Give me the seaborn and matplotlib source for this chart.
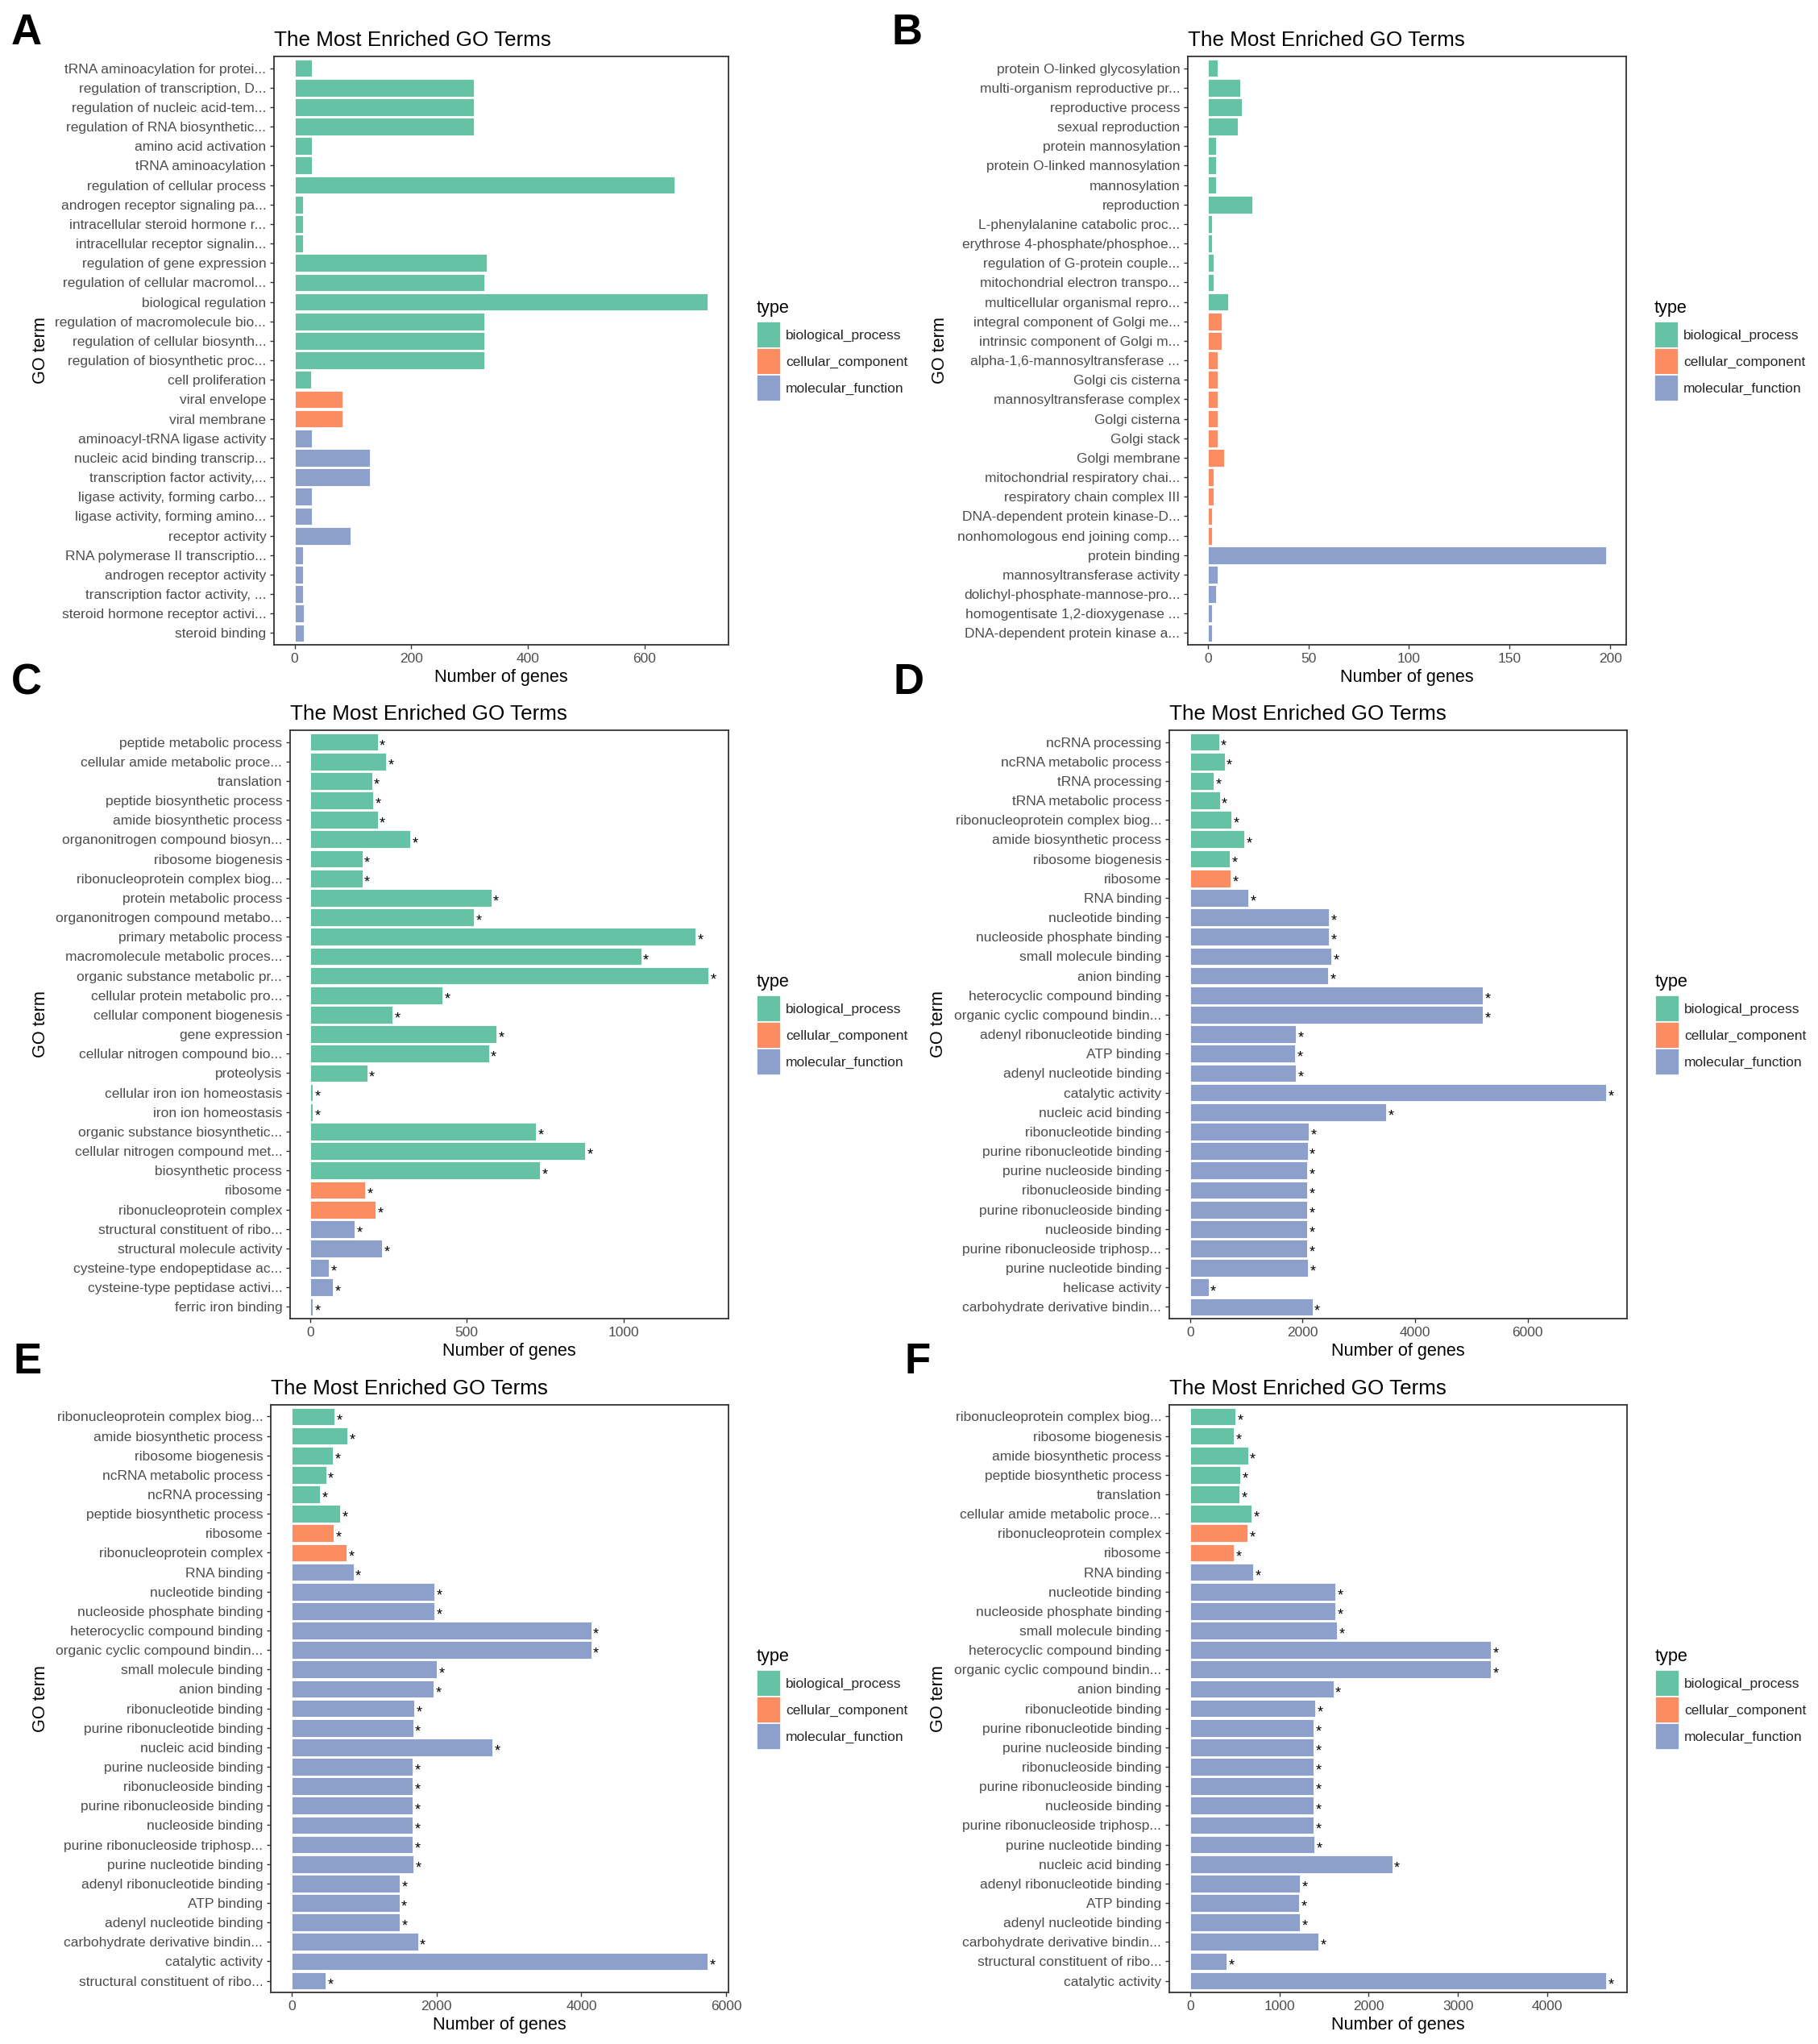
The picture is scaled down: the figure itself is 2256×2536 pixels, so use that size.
import matplotlib
matplotlib.use('Agg')
import matplotlib.pyplot as plt
import seaborn as sns
import pandas as pd
from matplotlib.patches import Patch

sns.set_style('white')
plt.rcParams['font.family'] = ['Liberation Sans', 'DejaVu Sans']

BP, CC, MF = 'biological_process', 'cellular_component', 'molecular_function'
type_names = [BP, CC, MF]
type_colors = ['#66C2A5', '#FC8D62', '#8DA0CB']

# ---------------- Panel A ----------------
a_terms = ["tRNA aminoacylation for protei...", "regulation of transcription, D...",
           "regulation of nucleic acid-tem...", "regulation of RNA biosynthetic...",
           "amino acid activation", "tRNA aminoacylation", "regulation of cellular process",
           "androgen receptor signaling pa...", "intracellular steroid hormone r...",
           "intracellular receptor signalin...", "regulation of gene expression",
           "regulation of cellular macromol...", "biological regulation",
           "regulation of macromolecule bio...", "regulation of cellular biosynth...",
           "regulation of biosynthetic proc...", "cell proliferation",
           "viral envelope", "viral membrane",
           "aminoacyl-tRNA ligase activity", "nucleic acid binding transcrip...",
           "transcription factor activity,...", "ligase activity, forming carbo...",
           "ligase activity, forming amino...", "receptor activity",
           "RNA polymerase II transcriptio...", "androgen receptor activity",
           "transcription factor activity, ...", "steroid hormone receptor activi...",
           "steroid binding"]
a_counts = [30, 308, 308, 308, 30, 30, 652, 15, 15, 15, 330, 325, 709, 325, 325, 325, 28,
            82, 82,
            30, 129, 129, 30, 30, 96, 15, 15, 15, 16, 16]
a_types = [BP] * 17 + [CC] * 2 + [MF] * 11
a_ticks = [0, 200, 400, 600]

# ---------------- Panel B ----------------
b_terms = ["protein O-linked glycosylation", "multi-organism reproductive pr...",
           "reproductive process", "sexual reproduction", "protein mannosylation",
           "protein O-linked mannosylation", "mannosylation", "reproduction",
           "L-phenylalanine catabolic proc...", "erythrose 4-phosphate/phosphoe...",
           "regulation of G-protein couple...", "mitochondrial electron transpo...",
           "multicellular organismal repro...",
           "integral component of Golgi me...", "intrinsic component of Golgi m...",
           "alpha-1,6-mannosyltransferase ...", "Golgi cis cisterna",
           "mannosyltransferase complex", "Golgi cisterna", "Golgi stack", "Golgi membrane",
           "mitochondrial respiratory chai...", "respiratory chain complex III",
           "DNA-dependent protein kinase-D...", "nonhomologous end joining comp...",
           "protein binding", "mannosyltransferase activity",
           "dolichyl-phosphate-mannose-pro...", "homogentisate 1,2-dioxygenase ...",
           "DNA-dependent protein kinase a..."]
b_counts = [5, 16, 17, 15, 4, 4, 4, 22, 2, 2, 3, 3, 10,
            7, 7, 5, 5, 5, 5, 5, 8, 3, 3, 2, 2,
            198, 5, 4, 2, 2]
b_types = [BP] * 13 + [CC] * 12 + [MF] * 5
b_ticks = [0, 50, 100, 150, 200]

# ---------------- Panel C ----------------
c_terms = ["peptide metabolic process", "cellular amide metabolic proce...", "translation",
           "peptide biosynthetic process", "amide biosynthetic process",
           "organonitrogen compound biosyn...", "ribosome biogenesis",
           "ribonucleoprotein complex biog...", "protein metabolic process",
           "organonitrogen compound metabo...", "primary metabolic process",
           "macromolecule metabolic proces...", "organic substance metabolic pr...",
           "cellular protein metabolic pro...", "cellular component biogenesis",
           "gene expression", "cellular nitrogen compound bio...", "proteolysis",
           "cellular iron ion homeostasis", "iron ion homeostasis",
           "organic substance biosynthetic...", "cellular nitrogen compound met...",
           "biosynthetic process",
           "ribosome", "ribonucleoprotein complex",
           "structural constituent of ribo...", "structural molecule activity",
           "cysteine-type endopeptidase ac...", "cysteine-type peptidase activi...",
           "ferric iron binding"]
c_counts = [216, 243, 198, 201, 216, 319, 167, 167, 578, 523, 1229, 1056, 1271, 422, 263,
            595, 570, 182, 9, 9, 721, 877, 734,
            176, 209,
            143, 230, 61, 73, 9]
c_types = [BP] * 23 + [CC] * 2 + [MF] * 5
c_ticks = [0, 500, 1000]

# ---------------- Panel D ----------------
d_terms = ["ncRNA processing", "ncRNA metabolic process", "tRNA processing",
           "tRNA metabolic process", "ribonucleoprotein complex biog...",
           "amide biosynthetic process", "ribosome biogenesis",
           "ribosome",
           "RNA binding", "nucleotide binding", "nucleoside phosphate binding",
           "small molecule binding", "anion binding", "heterocyclic compound binding",
           "organic cyclic compound bindin...", "adenyl ribonucleotide binding",
           "ATP binding", "adenyl nucleotide binding", "catalytic activity",
           "nucleic acid binding", "ribonucleotide binding", "purine ribonucleotide binding",
           "purine nucleoside binding", "ribonucleoside binding",
           "purine ribonucleoside binding", "nucleoside binding",
           "purine ribonucleoside triphosp...", "purine nucleotide binding",
           "helicase activity", "carbohydrate derivative bindin..."]
d_counts = [511, 615, 424, 528, 736, 961, 710,
            719,
            1039, 2468, 2468, 2511, 2450, 5203, 5203, 1879, 1870, 1879, 7394, 3489,
            2113, 2087, 2078, 2078, 2078, 2078, 2078, 2095, 329, 2173]
d_types = [BP] * 7 + [CC] * 1 + [MF] * 22
d_ticks = [0, 2000, 4000, 6000]

# ---------------- Panel E ----------------
e_terms = ["ribonucleoprotein complex biog...", "amide biosynthetic process",
           "ribosome biogenesis", "ncRNA metabolic process", "ncRNA processing",
           "peptide biosynthetic process",
           "ribosome", "ribonucleoprotein complex",
           "RNA binding", "nucleotide binding", "nucleoside phosphate binding",
           "heterocyclic compound binding", "organic cyclic compound bindin...",
           "small molecule binding", "anion binding", "ribonucleotide binding",
           "purine ribonucleotide binding", "nucleic acid binding",
           "purine nucleoside binding", "ribonucleoside binding",
           "purine ribonucleoside binding", "nucleoside binding",
           "purine ribonucleoside triphosp...", "purine nucleotide binding",
           "adenyl ribonucleotide binding", "ATP binding", "adenyl nucleotide binding",
           "carbohydrate derivative bindin...", "catalytic activity",
           "structural constituent of ribo..."]
e_counts = [593, 768, 572, 478, 391, 673,
            579, 761,
            855, 1973, 1973, 4135, 4135, 2007, 1960, 1697, 1677, 2774, 1670, 1670,
            1670, 1670, 1670, 1684, 1495, 1488, 1495, 1744, 5744, 471]
e_types = [BP] * 6 + [CC] * 2 + [MF] * 22
e_ticks = [0, 2000, 4000, 6000]

# ---------------- Panel F ----------------
f_terms = ["ribonucleoprotein complex biog...", "ribosome biogenesis",
           "amide biosynthetic process", "peptide biosynthetic process", "translation",
           "cellular amide metabolic proce...",
           "ribonucleoprotein complex", "ribosome",
           "RNA binding", "nucleotide binding", "nucleoside phosphate binding",
           "small molecule binding", "heterocyclic compound binding",
           "organic cyclic compound bindin...", "anion binding", "ribonucleotide binding",
           "purine ribonucleotide binding", "purine nucleoside binding",
           "ribonucleoside binding", "purine ribonucleoside binding", "nucleoside binding",
           "purine ribonucleoside triphosp...", "purine nucleotide binding",
           "nucleic acid binding", "adenyl ribonucleotide binding", "ATP binding",
           "adenyl nucleotide binding", "carbohydrate derivative bindin...",
           "structural constituent of ribo...", "catalytic activity"]
f_counts = [508, 491, 649, 562, 551, 688,
            644, 491,
            704, 1626, 1626, 1648, 3372, 3372, 1604, 1402, 1386, 1386, 1386, 1386, 1386,
            1386, 1392, 2265, 1228, 1222, 1233, 1435, 409, 4660]
f_types = [BP] * 6 + [CC] * 2 + [MF] * 22
f_ticks = [0, 1000, 2000, 3000, 4000]

# ---------------- Figure ----------------
W, H, DPI = 2256, 2536, 100
fig = plt.figure(figsize=(W / DPI, H / DPI), dpi=DPI)
fig.patch.set_facecolor('white')

panels = [
    # letter, terms, counts, types, ticks, stars, (left, right, top, bottom), ylabel_x, letter_xy
    ('A', a_terms, a_counts, a_types, a_ticks, False, (340, 904, 70, 800), 61, (14, 16)),
    ('B', b_terms, b_counts, b_types, b_ticks, False, (1474, 2018, 70, 800), 1177, (1106, 16)),
    ('C', c_terms, c_counts, c_types, c_ticks, True, (360, 904, 906, 1636), 61, (14, 822)),
    ('D', d_terms, d_counts, d_types, d_ticks, True, (1451, 2019, 906, 1636), 1175, (1108, 822)),
    ('E', e_terms, e_counts, e_types, e_ticks, True, (336, 904, 1743, 2472), 61, (16, 1665)),
    ('F', f_terms, f_counts, f_types, f_ticks, True, (1451, 2019, 1743, 2472), 1175, (1123, 1665)),
]

palette = dict(zip(type_names, type_colors))
tick_grey = '#4D4D4D'
line_grey = '#333333'

for letter, terms, counts, types, ticks, stars, (l, r, t, b), ylx, (lx, ly) in panels:
    ax = fig.add_axes([l / W, 1 - b / H, (r - l) / W, (b - t) / H])
    df = pd.DataFrame({'term': terms, 'count': counts, 'type': types})
    sns.barplot(data=df, x='count', y='term', hue='type', hue_order=type_names,
                palette=palette, order=terms, dodge=False, width=0.9, saturation=1,
                edgecolor='white', linewidth=0.6, legend=False, ax=ax)
    m = max(counts)
    ax.set_xlim(-0.05 * m, 1.05 * m)
    ax.set_ylim(len(terms) - 1 + 0.6, -0.6)
    ax.set_xticks(ticks)
    ax.set_xticklabels([str(v) for v in ticks])
    ax.tick_params(axis='both', which='major', labelsize=12.5, labelcolor=tick_grey,
                   color=line_grey, length=3.9, width=1.0, pad=3.1,
                   left=True, bottom=True)
    ax.grid(False)
    for sp in ax.spines.values():
        sp.set_visible(True)
        sp.set_color(line_grey)
        sp.set_linewidth(1.3)
    ax.set_xlabel('Number of genes', fontsize=15.6, color='black', labelpad=3.5)
    ax.set_ylabel('GO term', fontsize=15.6, color='black')
    ax.yaxis.set_label_coords((ylx - l) / (r - l), 0.5)
    ax.set_title('The Most Enriched GO Terms', loc='left', fontsize=18.7,
                 color='black', pad=9.4)
    if stars:
        for i, v in enumerate(counts):
            ax.annotate('*', (v, i), xytext=(1.7, -7.0), textcoords='offset points',
                        ha='left', va='baseline', fontsize=13, color='black')
    handles = [Patch(facecolor=c, edgecolor='white', linewidth=1.2) for c in type_colors]
    ax.legend(handles=handles, labels=type_names, loc='upper left',
              bbox_to_anchor=((r + 35) / W, 1 - (t + 329) / H),
              bbox_transform=fig.transFigure, frameon=False, fontsize=12.5,
              handlelength=1.72, handleheight=2.55,
              labelspacing=0.0, handletextpad=0.35, borderpad=0, borderaxespad=0)
    fig.text((r + 35) / W, 1 - (t + 318) / H, 'type', fontsize=15.6, color='black',
             ha='left', va='baseline')
    fig.text(lx / W, 1 - ly / H, letter, fontsize=38, fontweight='bold',
             ha='left', va='top', color='black')

fig.savefig('out.png', dpi=DPI, facecolor='white')
